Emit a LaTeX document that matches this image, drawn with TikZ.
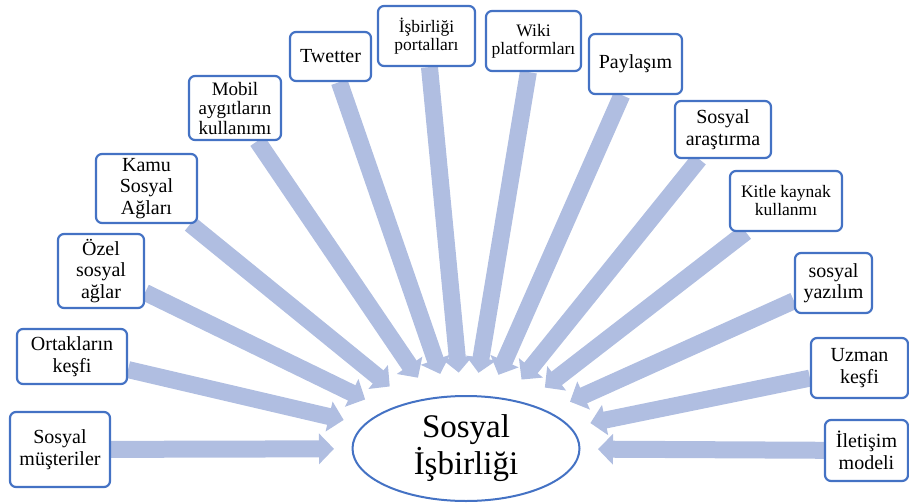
\documentclass[tikz,border=0pt]{standalone}
\usepackage{fontspec}
\setmainfont{Liberation Serif}
\usetikzlibrary{arrows.meta, shapes.geometric, backgrounds}
\definecolor{edgeblue}{RGB}{68,114,196}
\definecolor{shaftblue}{RGB}{176,190,225}

\begin{document}
\begin{tikzpicture}[x=1pt, y=-1pt,
  box/.style={draw=edgeblue, fill=white, line width=2.2pt, rounded corners=6pt, align=center,
    inner sep=1pt, font=\fontsize{20}{21.5}\selectfont},
  smalltext/.style={font=\fontsize{17.5}{18}\selectfont},
  hub/.style={draw=edgeblue, fill=white, ellipse, line width=2pt, inner sep=0pt, align=center,
    minimum width=227pt, minimum height=105pt, font=\fontsize{33}{37}\selectfont},
  ring/.style={ellipse, inner sep=0pt, outer sep=0pt, minimum width=264pt, minimum height=152pt},
  arrow/.style={-{Triangle[width=30pt,length=15pt]}, line width=17pt, draw=shaftblue},
]
  \useasboundingbox (0,0) rectangle (909,503);
  % centre
  \node[ring] (ring) at (466,448.5) {};
  \node[hub] (hub) at (466,448.5) {Sosyal\\İşbirliği};
  % left side
  \node[box, minimum width=100pt, minimum height=75pt] (cust) at (60,449.5) {Sosyal\\müşteriler};
  \node[box, minimum width=110pt, minimum height=55pt] (partner) at (72,356.5) {Ortakların\\keşfi};
  \node[box, minimum width=86pt, minimum height=74pt] (private) at (101,271) {Özel\\sosyal\\ağlar};
  \node[box, minimum width=101pt, minimum height=69pt] (public) at (146.5,188.5) {Kamu\\Sosyal\\Ağları};
  \node[box, minimum width=92pt, minimum height=64pt, font=\fontsize{19}{19.5}\selectfont] (mobile) at (235,108) {Mobil\\aygıtların\\kullanımı};
  \node[box, minimum width=81pt, minimum height=49pt] (twitter) at (330.5,56.5) {Twetter};
  % top
  \node[box, smalltext, minimum width=97pt, minimum height=60pt] (portal) at (426.5,36) {İşbirliği\\portalları};
  \node[box, smalltext, minimum width=95pt, minimum height=60pt] (wiki) at (533.5,41) {Wiki\\platformları};
  % right side
  \node[box, minimum width=93pt, minimum height=60pt] (share) at (635.5,64) {Paylaşım};
  \node[box, minimum width=96pt, minimum height=57pt] (research) at (723,129.5) {Sosyal\\araştırma};
  \node[box, smalltext, minimum width=112pt, minimum height=60pt] (crowd) at (786,201) {Kitle kaynak\\kullanmı};
  \node[box, minimum width=77pt, minimum height=60pt] (software) at (833.5,283) {sosyal\\yazılım};
  \node[box, minimum width=97pt, minimum height=60pt] (expert) at (859.5,368) {Uzman\\keşfi};
  \node[box, minimum width=83pt, minimum height=61pt] (comm) at (866.5,450.5) {İletişim\\modeli};

  \begin{pgfonlayer}{background}
    \foreach \n in {cust,partner,private,public,mobile,twitter,portal,wiki,share,research,crowd,software,expert,comm}
      \draw[arrow] (\n) -- (ring);
  \end{pgfonlayer}
\end{tikzpicture}
\end{document}
